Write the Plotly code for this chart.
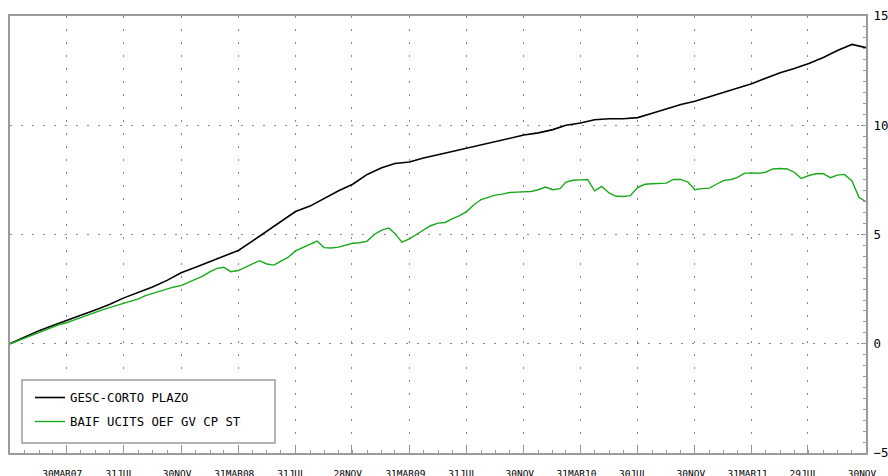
import pandas as pd
import plotly.graph_objects as go

# Month-end and semi-monthly date grids, 30 Nov 2006 .. 30 Nov 2011
month_dates = pd.date_range("2006-11-30", "2011-11-30", freq="ME")
try:
    half_dates = pd.date_range("2006-11-30", "2011-11-30", freq="SME")
except ValueError:
    half_dates = pd.date_range("2006-11-30", "2011-11-30", freq="SM")

# Cumulative return (%) of GESC-CORTO PLAZO, month ends
corto_plazo = [
    0.00, 0.30, 0.60, 0.82, 1.05, 1.30, 1.55, 1.80, 2.10, 2.35,
    2.60, 2.90, 3.25, 3.50, 3.75, 4.00, 4.27, 4.70, 5.15, 5.60,
    6.05, 6.30, 6.65, 7.00, 7.30, 7.75, 8.05, 8.25, 8.32, 8.50,
    8.65, 8.80, 8.93, 9.10, 9.25, 9.40, 9.55, 9.65, 9.80, 10.00,
    10.10, 10.25, 10.30, 10.30, 10.35, 10.55, 10.75, 10.95, 11.10, 11.30,
    11.50, 11.70, 11.90, 12.15, 12.40, 12.60, 12.83, 13.10, 13.42, 13.70,
    13.55,
]

# Cumulative return (%) of the benchmark, semi-monthly
benchmark = [
    0.00, 0.12, 0.28, 0.40, 0.52, 0.62, 0.75, 0.88, 0.96, 1.08,
    1.20, 1.30, 1.42, 1.55, 1.65, 1.75, 1.83, 1.95, 2.05, 2.20,
    2.30, 2.40, 2.50, 2.60, 2.66, 2.80, 2.95, 3.10, 3.30, 3.45,
    3.50, 3.30, 3.35, 3.50, 3.65, 3.80, 3.65, 3.60, 3.78, 3.95,
    4.25, 4.40, 4.55, 4.70, 4.40, 4.38, 4.42, 4.50, 4.60, 4.62,
    4.70, 5.00, 5.20, 5.30, 5.05, 4.65, 4.80, 5.00, 5.20, 5.40,
    5.52, 5.55, 5.72, 5.85, 6.05, 6.35, 6.60, 6.70, 6.80, 6.85,
    6.92, 6.94, 6.95, 6.97, 7.05, 7.17, 7.05, 7.10, 7.40, 7.48,
    7.50, 7.52, 7.00, 7.20, 6.90, 6.75, 6.74, 6.78, 7.15, 7.30,
    7.32, 7.32, 7.35, 7.52, 7.52, 7.40, 7.05, 7.10, 7.12, 7.30,
    7.48, 7.52, 7.60, 7.80, 7.82, 7.80, 7.85, 8.00, 8.02, 8.00,
    7.85, 7.56, 7.70, 7.78, 7.78, 7.60, 7.72, 7.75, 7.45, 6.70,
    6.50,
]

tick_dates = [
    "2006-11-30", "2007-03-30", "2007-07-31", "2007-11-30", "2008-03-31",
    "2008-07-31", "2008-11-28", "2009-03-31", "2009-07-31", "2009-11-30",
    "2010-03-31", "2010-07-30", "2010-11-30", "2011-03-31", "2011-07-29",
    "2011-11-30",
]
tick_labels = [
    "", "30MAR07", "31JUL", "30NOV", "31MAR08", "31JUL", "28NOV", "31MAR09",
    "31JUL", "30NOV", "31MAR10", "30JUL", "30NOV", "31MAR11", "29JUL", "30NOV",
]

MONO = "DejaVu Sans Mono"
AXIS_GREY = "#9a9a9a"
GRID_GREY = "#8a8a8a"

fig = go.Figure()
fig.add_trace(go.Scatter(
    x=month_dates, y=corto_plazo, mode="lines", name="GESC-CORTO PLAZO",
    line=dict(color="#000000", width=1.6), legend="legend",
))
fig.add_trace(go.Scatter(
    x=half_dates, y=benchmark, mode="lines", name="BAIF UCITS OEF GV CP ST",
    line=dict(color="#19a819", width=1.4), legend="legend2",
))

# Legend frame
fig.add_shape(
    type="rect", xref="paper", yref="paper",
    x0=12 / 856, x1=265 / 856, y0=10 / 437, y1=73 / 437,
    line=dict(color=AXIS_GREY, width=1.5), fillcolor="white", layer="above",
)

legend_style = dict(
    xanchor="left", yanchor="top", bgcolor="rgba(0,0,0,0)", borderwidth=0,
    font=dict(family=MONO, size=12.3, color="#000000"),
)

fig.update_layout(
    width=888, height=476,
    margin=dict(l=10, r=22, t=16, b=23, autoexpand=False),
    paper_bgcolor="white", plot_bgcolor="white",
    font=dict(family=MONO, color="#000000"),
    showlegend=True,
    legend=dict(x=20 / 856, y=70 / 437, **legend_style),
    legend2=dict(x=20 / 856, y=46 / 437, **legend_style),
)

fig.update_xaxes(
    range=["2006-11-30", "2011-11-30"], automargin=False,
    tickmode="array", tickvals=tick_dates, ticktext=tick_labels,
    ticks="inside", ticklen=7, tickcolor=AXIS_GREY, tickwidth=1,
    tickfont=dict(family=MONO, size=9.5, color="#000000"),
    ticklabelstandoff=11, ticklabelshift=-4,
    showline=True, linecolor=AXIS_GREY, linewidth=2, mirror=True,
    showgrid=True, gridcolor=GRID_GREY, gridwidth=1, griddash="2px,11px",
    minor=dict(dtick="M1", tick0="2006-11-30", ticks="inside", ticklen=3,
               tickcolor=AXIS_GREY, showgrid=False),
    zeroline=False,
)
fig.update_yaxes(
    range=[-5, 15], side="right", automargin=False,
    tickmode="array", tickvals=[-5, 0, 5, 10, 15],
    ticks="inside", ticklen=5, tickcolor=AXIS_GREY, tickwidth=1,
    tickfont=dict(family=MONO, size=12.4, color="#000000"),
    ticklabelstandoff=3,
    showline=True, linecolor=AXIS_GREY, linewidth=2, mirror=True,
    showgrid=True, gridcolor=GRID_GREY, gridwidth=1, griddash="2px,9px",
    minor=dict(dtick=0.5, ticks="inside", ticklen=3, tickcolor=AXIS_GREY,
               showgrid=False),
    zeroline=False,
)

fig.write_html("out.html")
